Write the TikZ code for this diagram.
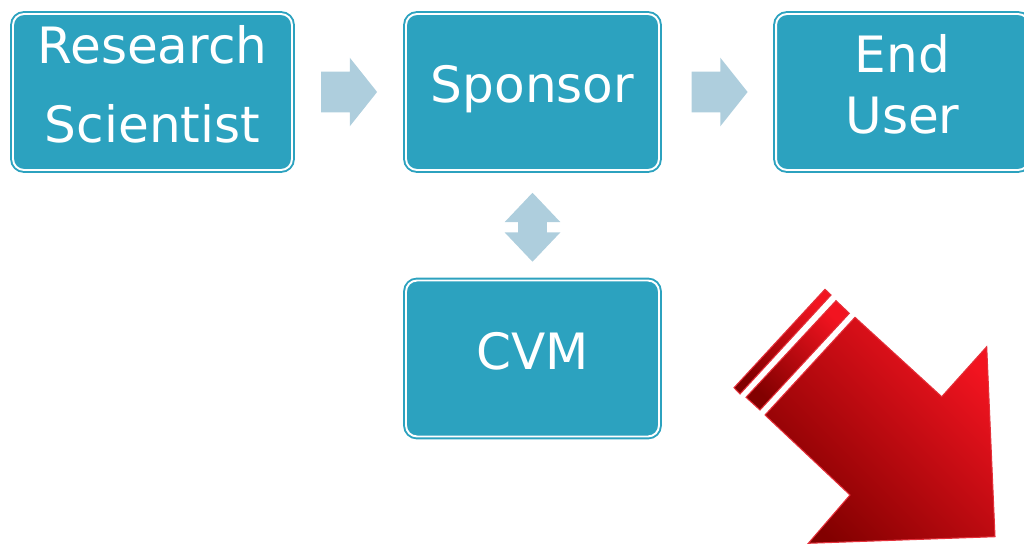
\documentclass[tikz,border=0pt]{standalone}
\usepackage{fontspec}
\setmainfont{DejaVu Sans}
\usepackage{xcolor}
\usetikzlibrary{shapes.arrows,calc}

\definecolor{boxteal}{RGB}{44,162,191}
\definecolor{arrowblue}{RGB}{174,206,221}
\definecolor{reddark}{RGB}{130,0,0}
\definecolor{redmid}{RGB}{215,0,6}
\definecolor{redlight}{RGB}{242,20,32}
\definecolor{redrim}{RGB}{228,48,58}

\begin{document}
\begin{tikzpicture}[x=0.02cm,y=-0.02cm,
    box/.style={draw=boxteal, double=white, double distance=1.1pt, line width=1.1pt,
        fill=boxteal, rounded corners=0.22cm, text=white, align=center, inner sep=0pt,
        minimum width=5.06cm, minimum height=3.12cm,
        font=\fontsize{28.5}{34.2}\selectfont,
        execute at end node=\rule[-0.32cm]{0pt}{0pt}},
    flow/.style={single arrow, fill=arrowblue, inner xsep=0pt, inner ysep=0.4cm,
        minimum height=1.12cm, minimum width=1.36cm,
        single arrow head extend=0.28cm, single arrow tip angle=103},
    redpart/.style={draw=redrim, line width=0.6pt, left color=reddark,
        middle color=redmid, right color=redlight, shading angle=135}]
            \useasboundingbox (0,0) rectangle (1024,544);
            \node[box, minimum width=5.58cm] (rs) at (152.5,92) {Research\\[11pt]Scientist};
            \node[box] (sp) at (532.5,92) {Sponsor};
            \node[box] (eu) at (902.5,92) {End\\User};
            \node[box] (cvm) at (532.5,358.5) {CVM};
            % flow between the boxes
            \node[flow] (a1) at ($(rs.east)!0.5!(sp.west)+(-8,0)$) {};
            \node[flow] (a2) at ($(sp.east)!0.5!(eu.west)+(-6,0)$) {};
            \node[double arrow, fill=arrowblue, inner xsep=0pt, inner ysep=0.28cm, rotate=90,
                minimum height=1.38cm, minimum width=1.1cm,
                double arrow head extend=0.27cm, double arrow tip angle=87]
                (a3) at ($(sp.south)!0.5!(cvm.north)+(0,2)$) {};
            % big red arrow, two stripes behind it
            \draw[redpart] (825,289.3)--(831,295)--(740,394)--(734,387.7)--cycle;
            \draw[redpart] (836,300.7)--(849.3,313.3)--(760,410)--(746,397.3)--cycle;
            \draw[redpart] (855,317.3)--(941.7,396.7)--(986.7,346.7)--(995,536.7)
                --(808.3,543.3)--(850,495)--(765,415)--cycle;
        \end{tikzpicture}
\end{document}
